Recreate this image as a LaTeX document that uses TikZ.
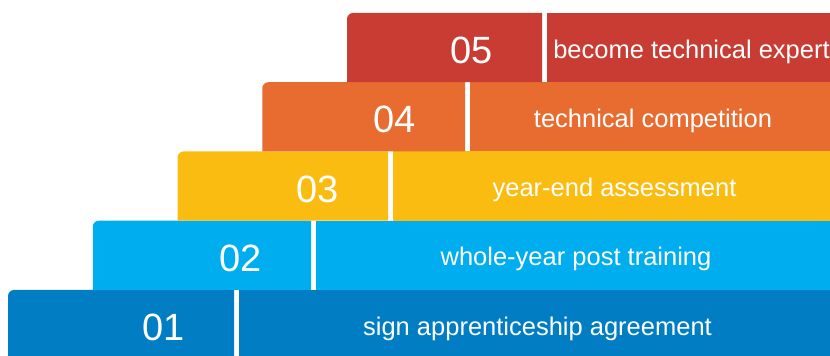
\documentclass[tikz,border=0pt]{standalone}
\usepackage{fontspec}
\setmainfont{Liberation Sans}
\definecolor{cA}{HTML}{007DC3}
\definecolor{cB}{HTML}{00AEEF}
\definecolor{cC}{HTML}{FBBC12}
\definecolor{cD}{HTML}{E86C30}
\definecolor{cE}{HTML}{C93C33}
\tikzset{
  numtxt/.style={text=white,font=\fontsize{38}{40}\selectfont,inner sep=0pt},
  labtxt/.style={text=white,font=\fontsize{25.5}{28}\selectfont,inner sep=0pt}
}
\begin{document}
\begin{tikzpicture}[x=1pt,y=1pt]
\useasboundingbox (0,0) rectangle (830,356);
\clip (0,0) rectangle (830,356);
\fill[white] (0,0) rectangle (830,356);
\foreach \k/\col/\num/\lab in {0/cA/01/sign apprenticeship agreement,
                               1/cB/02/whole-year post training,
                               2/cC/03/year-end assessment,
                               3/cD/04/technical competition,
                               4/cE/05/become technical expert}{
  \pgfmathsetmacro{\xo}{8+84.75*\k}
  \pgfmathsetmacro{\xg}{234+77*\k}
  \pgfmathsetmacro{\xr}{\xg+5}
  \pgfmathsetmacro{\yt}{356-(290-69.25*\k)}
  \pgfmathsetmacro{\yb}{\yt-69.25}
  \pgfmathsetmacro{\ym}{(\yt+\yb)/2}
  \pgfmathsetmacro{\xn}{\xg-70}
  \pgfmathsetmacro{\xl}{(\xr+836)/2}
  \fill[\col] (\xo,\yb) -- (\xo,\yt-6) arc[start angle=180,end angle=90,radius=6] -- (\xg,\yt) -- (\xg,\yb) -- cycle;
  \fill[\col] (\xr,\yb) rectangle (842,\yt);
  \node[numtxt] (num\k) at (\xn,\ym-3) {\num};
  \node[labtxt] (lab\k) at (\xl,\ym-4) {\lab};
}
\end{tikzpicture}
\end{document}
